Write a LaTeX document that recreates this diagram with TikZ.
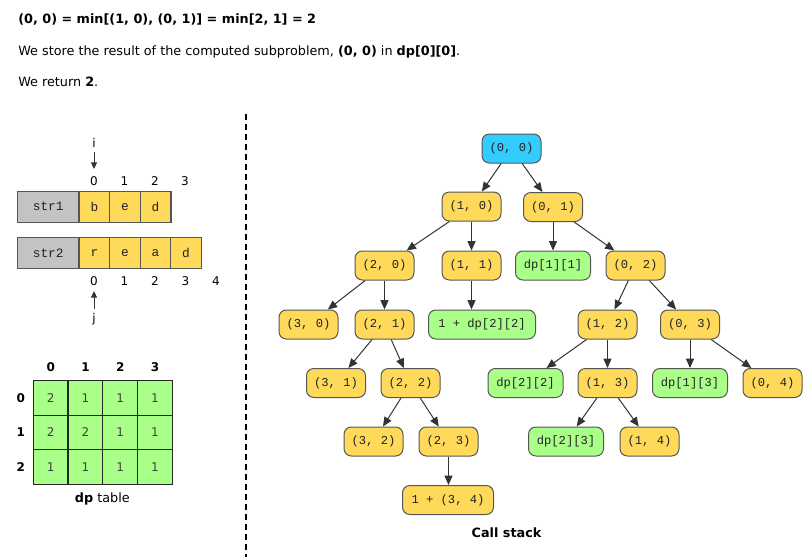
\documentclass[tikz,border=0pt]{standalone}
\usepackage{fontspec}
\setmainfont{DejaVu Sans}
\setmonofont{Liberation Mono}
\usetikzlibrary{arrows.meta}
\definecolor{cyanb}{HTML}{33CCFF}
\definecolor{yelf}{HTML}{FFD95A}
\definecolor{grnf}{HTML}{AAFF88}
\definecolor{gryf}{HTML}{C3C3C3}
\definecolor{bordc}{HTML}{555555}
\definecolor{edgec}{HTML}{333333}
\definecolor{txtc}{HTML}{222222}
\begin{document}
\begin{tikzpicture}[x=0.75pt,y=-0.75pt,
  call/.style={draw=bordc, line width=0.75pt, rounded corners=5.5pt, minimum height=21.75pt,
    minimum width=44.25pt, inner sep=0pt, font=\fontsize{9.1}{10}\ttfamily, text=txtc},
  ycall/.style={call, fill=yelf},
  bcall/.style={call, fill=cyanb},
  gcall/.style={call, fill=grnf, minimum width=56.25pt},
  arr/.style={draw=edgec, line width=0.75pt, -{Triangle[length=7pt,width=6pt]}},
  sarr/.style={draw=edgec, line width=0.7pt, -{Triangle[length=5pt,width=4.5pt]}},
  hdr/.style={anchor=base west, inner sep=0pt, font=\fontsize{9.6}{12}\selectfont},
  idx/.style={inner sep=0pt, font=\fontsize{9}{11}\selectfont},
  strcell/.style={draw=bordc, line width=1pt, minimum width=23pt, minimum height=23.25pt, inner sep=0pt,
    fill=yelf, font=\fontsize{9.6}{10}\ttfamily, text=txtc},
  strname/.style={strcell, fill=gryf, minimum width=46.3pt},
  dpcell/.style={draw=black!85, line width=1pt, minimum width=26.06pt, minimum height=25.9pt, inner sep=0pt,
    fill=grnf, text=black!75, font=\fontsize{9}{11}\selectfont},
  dphead/.style={inner sep=0pt, font=\fontsize{9}{11}\bfseries}
]
\useasboundingbox (0,0) rectangle (807,557);

% header text
\node[hdr] (t1) at (18,23.5) {\textbf{(0, 0) = min[(1, 0), (0, 1)] = min[2, 1] = 2}};
\node[hdr] (t2) at (18,55) {We store the result of the computed subproblem, \textbf{(0, 0)} in \textbf{dp[0][0]}.};
\node[hdr] (t3) at (18,86) {We return \textbf{2}.};

% string pointers
\node[idx] (i) at (94,143) {i};
\coordinate (ia) at (94,169);
\draw[sarr, shorten <=3pt] (i.south) -- (ia);
\foreach \k/\x in {0/94,1/124.5,2/155,3/185}{
  \node[idx] (ta\k) at (\x,181) {\k};
}
\node[strname] (s1) at (48.2,206.7) {str1};
\node[strcell] (s1a) at (94.4,206.7) {b};
\node[strcell] (s1b) at (125,206.7) {e};
\node[strcell] (s1c) at (155.5,206.7) {d};

\node[strname] (s2) at (48.2,252.8) {str2};
\node[strcell] (s2a) at (94.4,252.8) {r};
\node[strcell] (s2b) at (125,252.8) {e};
\node[strcell] (s2c) at (155.5,252.8) {a};
\node[strcell] (s2d) at (186,252.8) {d};
\foreach \k/\x in {0/94,1/124.5,2/155,3/185.5,4/216}{
  \node[idx] (tb\k) at (\x,281) {\k};
}
\node[idx] (j) at (94,319) {j};
\coordinate (ja) at (94,291);
\draw[sarr, shorten <=3pt] (j.north) -- (ja);

% dp table
\foreach \c/\x in {0/50.7,1/85.5,2/120.2,3/155}{
  \node[dphead] (ch\c) at (\x,367.3) {\c};
}
\foreach \r/\y in {0/397.9,1/432.5,2/467}{
  \node[dphead] (rh\r) at (20.7,\y) {\r};
}
\foreach \r/\y/\va/\vb/\vc/\vd in {0/397.9/2/1/1/1,1/432.5/2/2/1/1,2/467/1/1/1/1}{
  \node[dpcell] (d\r0) at (50.7,\y) {\va};
  \node[dpcell] (d\r1) at (85.5,\y) {\vb};
  \node[dpcell] (d\r2) at (120.2,\y) {\vc};
  \node[dpcell] (d\r3) at (155,\y) {\vd};
}
\node[inner sep=0pt, font=\fontsize{9.6}{12}\selectfont] (dpl) at (102.3,499.3) {\textbf{dp} table};

% divider
\coordinate (dv1) at (245.5,114);
\coordinate (dv2) at (245.5,557);
\draw[line width=1.5pt, dash pattern=on 4.5pt off 3pt] (dv1) -- (dv2);

% call tree
\node[bcall] (n00) at (511.5,148.5) {(0, 0)};
\node[ycall] (n10) at (471.5,206.5) {(1, 0)};
\node[ycall] (n01) at (553,207) {(0, 1)};
\node[ycall] (n20) at (384.5,265.5) {(2, 0)};
\node[ycall] (n11) at (471.5,265.5) {(1, 1)};
\node[gcall] (dp11) at (553,265.5) {dp[1][1]};
\node[ycall] (n02) at (635.5,265.5) {(0, 2)};
\node[ycall] (n30) at (308.5,324.5) {(3, 0)};
\node[ycall] (n21) at (384.5,324.5) {(2, 1)};
\node[gcall, minimum width=80.25pt] (pdp22) at (482,324.5) {1 + dp[2][2]};
\node[ycall] (n12) at (607.5,324.5) {(1, 2)};
\node[ycall] (n03) at (690,324.5) {(0, 3)};
\node[ycall] (n31) at (336,383) {(3, 1)};
\node[ycall] (n22) at (410.5,383) {(2, 2)};
\node[gcall] (dp22) at (525.5,383) {dp[2][2]};
\node[ycall] (n13) at (607.5,383) {(1, 3)};
\node[gcall] (dp13) at (690,383) {dp[1][3]};
\node[ycall] (n04) at (772.5,383) {(0, 4)};
\node[ycall] (n32) at (373.5,441.5) {(3, 2)};
\node[ycall] (n23) at (448.5,441.5) {(2, 3)};
\node[gcall] (dp23) at (566,441.5) {dp[2][3]};
\node[ycall] (n14) at (649.5,441.5) {(1, 4)};
\node[ycall, minimum width=68.25pt] (pn34) at (448,500) {1 + (3, 4)};

\foreach \a/\b in {n00/n10,n00/n01,n10/n20,n10/n11,n01/dp11,n01/n02,n20/n30,n20/n21,
  n02/n12,n02/n03,n21/n31,n21/n22,n12/dp22,n12/n13,n03/dp13,n03/n04,
  n22/n32,n22/n23,n13/dp23,n13/n14}{
  \draw[arr] (\a) -- (\b);
}
\draw[arr] (n11.south) -- (n11.south |- pdp22.north);
\draw[arr] (n23.south) -- (n23.south |- pn34.north);

\node[inner sep=0pt, font=\fontsize{9.6}{12}\bfseries] (cs) at (506.5,533) {Call stack};
\end{tikzpicture}
\end{document}
